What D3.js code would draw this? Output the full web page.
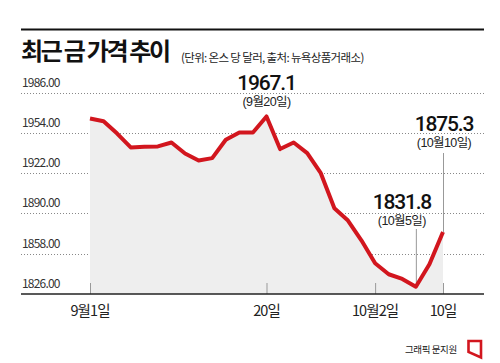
<!DOCTYPE html>
<html>
<head>
<meta charset="utf-8">
<script src="https://cdn.jsdelivr.net/npm/d3@7"></script>
<style>
  html, body { margin: 0; padding: 0; background: #fff; }
  svg { display: block; font-family: "Noto Sans CJK KR", "Noto Sans", sans-serif; }
</style>
</head>
<body>
<svg id="chart" width="500" height="363"></svg>
<script>
// ---- data ----
const dates = ["9월1일","9월4일","9월5일","9월6일","9월7일","9월8일","9월11일","9월12일","9월13일","9월14일","9월15일","9월18일","9월19일","9월20일","9월21일","9월22일","9월25일","9월26일","9월27일","9월28일","9월29일","10월2일","10월3일","10월4일","10월5일","10월6일","10월10일"];
const prices = [1965.5, 1963.3, 1953.5, 1942.5, 1943.0, 1943.3, 1946.4, 1937.7, 1932.1, 1934.0, 1948.6, 1954.4, 1954.4, 1967.1, 1941.2, 1946.4, 1938.0, 1922.0, 1894.2, 1884.4, 1868.5, 1850.4, 1841.7, 1838.0, 1831.8, 1849.6, 1875.3];
const yTicks = [1826, 1858, 1890, 1922, 1954, 1986];
const xTickDates = ["9월1일", "9월20일", "10월2일", "10월10일"];
const xTickLabels = ["9월1일", "20일", "10월2일", "10일"];
const annotDates = ["9월20일", "10월5일", "10월10일"];
const annotValues = ["1967.1", "1831.8", "1875.3"];
const annotSubs = ["(9월20일)", "(10월5일)", "(10월10일)"];

const title = "최근 금 가격 추이";
const subtitle = "(단위: 온스 당 달러, 출처: 뉴욕상품거래소)";
const credit = "그래픽 문지원";

// ---- drawing ----
const svg = d3.select("#chart");
const left = 21, right = 484;
const x = d3.scalePoint().domain(dates).range([90, 443]);
const y = d3.scaleLinear().domain([1826, 1986]).range([294, 92.7]);
const data = dates.map((d, i) => ({ d, v: prices[i] }));

// top rule
svg.append("line").attr("x1", left).attr("x2", right).attr("y1", 29.5).attr("y2", 29.5)
  .attr("stroke", "#111").attr("stroke-width", 2);

// title
svg.append("text").attr("x", 21).attr("y", 60)
  .attr("font-size", 24).attr("font-weight", 700).attr("letter-spacing", -2.3)
  .attr("fill", "#111").text(title);
svg.append("text").attr("x", 181).attr("y", 62)
  .attr("font-size", 11.5).attr("letter-spacing", -0.65)
  .attr("fill", "#222").text(subtitle);

// grid
const grid = svg.append("g");
yTicks.forEach(t => {
  if (t !== 1826) {
    grid.append("line").attr("x1", left).attr("x2", right)
      .attr("y1", Math.round(y(t)) + 0.5).attr("y2", Math.round(y(t)) + 0.5)
      .attr("stroke", "#888").attr("stroke-width", 1).attr("stroke-dasharray", "1,2");
  }
  grid.append("text").attr("x", 22).attr("y", y(t) - 6)
    .attr("font-size", 12).attr("letter-spacing", -0.8).attr("fill", "#333")
    .text(d3.format(".2f")(t));
});

// area
const area = d3.area().x(p => x(p.d)).y0(y(1826)).y1(p => y(p.v));
svg.append("path").datum(data).attr("d", area).attr("fill", "#eeeeee");

// ticks
xTickDates.forEach((d, i) => {
  svg.append("line").attr("x1", x(d) + 0.5).attr("x2", x(d) + 0.5)
    .attr("y1", 283).attr("y2", 294).attr("stroke", "#999").attr("stroke-width", 1);
  svg.append("text").attr("x", x(d)).attr("y", 316).attr("text-anchor", "middle")
    .attr("font-size", 14.5).attr("letter-spacing", -0.9).attr("fill", "#222")
    .text(xTickLabels[i]);
});

// axis line
svg.append("line").attr("x1", left).attr("x2", right).attr("y1", 294).attr("y2", 294)
  .attr("stroke", "#222").attr("stroke-width", 1.5);

// leaders
const leaderDates = ["10월5일", "10월10일"];
const leaderTop = [229, 153];
leaderDates.forEach((d, i) => {
  const v = prices[dates.indexOf(d)];
  svg.append("line").attr("x1", x(d) + 0.5).attr("x2", x(d) + 0.5)
    .attr("y1", leaderTop[i]).attr("y2", y(v))
    .attr("stroke", "#999").attr("stroke-width", 1);
});

// line
const line = d3.line().x(p => x(p.d)).y(p => y(p.v));
svg.append("path").datum(data).attr("d", line)
  .attr("fill", "none").attr("stroke", "#d2161e").attr("stroke-width", 4)
  .attr("stroke-linejoin", "round").attr("stroke-linecap", "butt");

// annotations
const annotDx = [0, -14, 1];
const annotY = [90, 208.5, 130.5];
annotDates.forEach((d, i) => {
  const cx = x(d) + annotDx[i];
  svg.append("text").attr("x", cx).attr("y", annotY[i]).attr("text-anchor", "middle")
    .attr("font-family", "Roboto, 'Noto Sans', sans-serif")
    .attr("font-size", 21).attr("font-weight", 500).attr("letter-spacing", -1.2)
    .attr("fill", "#111").text(annotValues[i]);
  svg.append("text").attr("x", cx).attr("y", annotY[i] + 16).attr("text-anchor", "middle")
    .attr("font-family", "'Liberation Sans', 'Noto Sans CJK KR', sans-serif")
    .attr("font-size", 12.5).attr("letter-spacing", -0.6)
    .attr("fill", "#222").text(annotSubs[i]);
});

// credit
svg.append("text").attr("x", 405).attr("y", 352.5)
  .attr("font-size", 9.5).attr("letter-spacing", -0.4).attr("fill", "#222").text(credit);
svg.append("path")
  .attr("d", "M468.5,341 L481,341 L481,357.5 L468.5,352 Z")
  .attr("fill", "none").attr("stroke", "#d2161e").attr("stroke-width", 2.6)
  .attr("stroke-linejoin", "miter");
</script>
</body>
</html>
